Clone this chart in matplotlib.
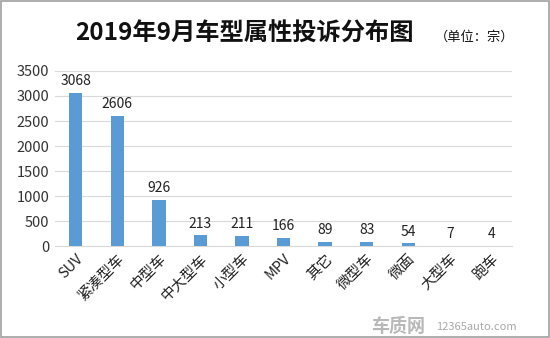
import matplotlib
matplotlib.use("Agg")
import matplotlib.pyplot as plt
from matplotlib.patches import Rectangle

plt.rcParams['font.family'] = ['Noto Sans CJK SC', 'DejaVu Sans']

categories = ["SUV", "紧凑型车", "中型车", "中大型车", "小型车", "MPV", "其它", "微型车", "微面", "大型车", "跑车"]
values = [3068, 2606, 926, 213, 211, 166, 89, 83, 54, 7, 4]
yticks = [0, 500, 1000, 1500, 2000, 2500, 3000, 3500]

fig = plt.figure(figsize=(5.5, 3.38), dpi=100)
ax = fig.add_axes([0.1, 0.272, 0.831, 0.518])

x = range(len(categories))
ax.bar(x, values, width=0.32, color="#5B9BD5", zorder=3)
for xi, v in zip(x, values):
    ax.text(xi, v + 90, str(v), ha="center", va="bottom", fontsize=10, color="#222222")

ax.set_ylim(0, 3500)
ax.set_xlim(-0.5, len(categories) - 0.5)
ax.set_yticks(yticks)
ax.set_yticklabels([str(t) for t in yticks], fontsize=10.5, color="#333333")
ax.set_xticks(list(x))
ax.set_xticklabels(categories, rotation=45, ha="right", rotation_mode="anchor", fontsize=10.5, color="#222222")
ax.tick_params(axis="both", length=0, pad=4)
ax.grid(axis="y", color="#D9D9D9", linewidth=0.8, zorder=0)
for s in ["top", "right", "left"]:
    ax.spines[s].set_visible(False)
ax.spines["bottom"].set_color("#D9D9D9")

fig.text(0.445, 0.9, "2019年9月车型属性投诉分布图", ha="center", va="center", fontsize=17.5, fontweight="bold", color="#111111")
fig.text(0.862, 0.89, "（单位：宗）", ha="center", va="center", fontsize=9.5, color="#111111")
fig.text(0.773, 0.035, "车质网", ha="right", va="center", fontsize=13, fontweight="bold", color="#B8B8B8")
fig.text(0.94, 0.032, "12365auto.com", ha="right", va="center", fontsize=8, color="#A8A8A8")

fig.patches.append(Rectangle((0.002, 0.003), 0.996, 0.994, transform=fig.transFigure, fill=False, edgecolor="#A0A0A0", linewidth=1.2))

fig.savefig("out.png", dpi=100)
